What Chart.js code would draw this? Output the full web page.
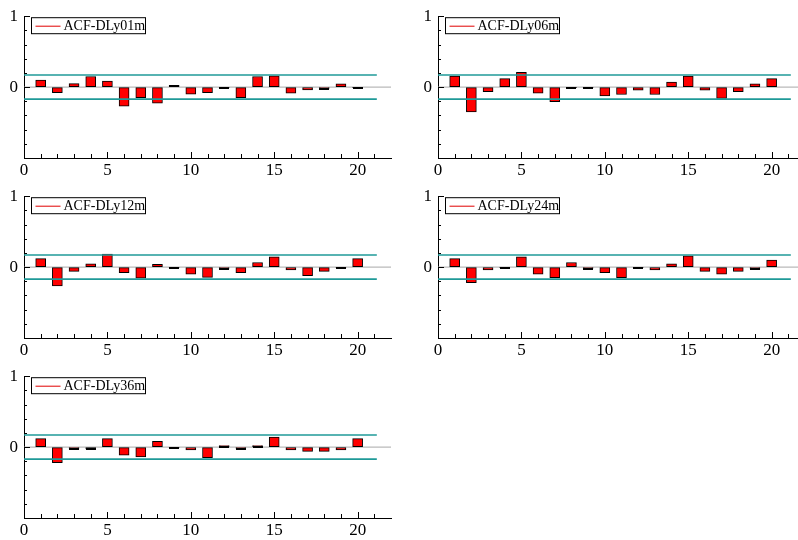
<!DOCTYPE html>
<html lang="en">

<head>
    <meta charset="UTF-8">
    <title>ACF panels</title>
    <style>
        body {
            margin: 0;
            width: 798px;
            height: 540px;
            overflow: hidden;
            background: #fff;
            position: relative;
        }

        .panel {
            position: absolute;
            width: 400px;
            height: 180px;
        }
    </style>
</head>

<body>
    <div class="panel" style="left:0;top:0"><canvas id="p1" width="400" height="180"></canvas></div>
    <div class="panel" style="left:414px;top:0"><canvas id="p2" width="400" height="180"></canvas></div>
    <div class="panel" style="left:0;top:180px"><canvas id="p3" width="400" height="180"></canvas></div>
    <div class="panel" style="left:414px;top:180px"><canvas id="p4" width="400" height="180"></canvas></div>
    <div class="panel" style="left:0;top:360px"><canvas id="p5" width="400" height="180"></canvas></div>

    <script src="https://cdn.jsdelivr.net/npm/chart.js"></script>
    <script>
        // lags and autocorrelations
        const lags = [1, 2, 3, 4, 5, 6, 7, 8, 9, 10, 11, 12, 13, 14, 15, 16, 17, 18, 19, 20];
        const acfDLy01m = [0.10, -0.08, 0.05, 0.15, 0.085, -0.27, -0.15, -0.225, 0.025, -0.10, -0.08, -0.005, -0.15, 0.15, 0.16, -0.085, -0.04, -0.02, 0.045, -0.005];
        const acfDLy06m = [0.155, -0.35, -0.065, 0.12, 0.21, -0.085, -0.205, -0.005, -0.005, -0.125, -0.105, -0.045, -0.105, 0.07, 0.155, -0.045, -0.16, -0.065, 0.045, 0.12];
        const acfDLy12m = [0.12, -0.265, -0.06, 0.045, 0.185, -0.08, -0.155, 0.04, -0.005, -0.10, -0.145, -0.02, -0.08, 0.065, 0.145, -0.04, -0.12, -0.06, -0.005, 0.12];
        const acfDLy24m = [0.12, -0.22, -0.04, -0.005, 0.145, -0.10, -0.15, 0.065, -0.02, -0.08, -0.15, -0.005, -0.04, 0.045, 0.16, -0.06, -0.10, -0.06, -0.02, 0.10];
        const acfDLy36m = [0.12, -0.22, -0.02, -0.025, 0.12, -0.115, -0.14, 0.08, -0.005, -0.04, -0.15, 0.02, -0.02, 0.02, 0.14, -0.04, -0.06, -0.06, -0.04, 0.12];

        const seriesNames = ['ACF-DLy01m', 'ACF-DLy06m', 'ACF-DLy12m', 'ACF-DLy24m', 'ACF-DLy36m'];
        const seriesValues = [acfDLy01m, acfDLy06m, acfDLy12m, acfDLy24m, acfDLy36m];
        const confLimit = 0.17;       // +/- band
        const bandEnd = 21.15;        // teal lines stop a bit after lag 21
        const xLabelTicks = [0, 5, 10, 15, 20];
        const yLabelTicks = [0, 1];

        Chart.defaults.font.family = "'Liberation Serif', serif";
        Chart.defaults.color = '#000';

        // bars too short to show their border get a black dash
        const flatBars = {
            id: 'flatBars',
            afterDatasetDraw(chart, args) {
                if (args.meta.type !== 'bar') return;
                const ctx = chart.ctx;
                ctx.save();
                ctx.fillStyle = '#000';
                args.meta.data.forEach(bar => {
                    const p = bar.getProps(['x', 'y', 'base', 'width']);
                    if (Math.abs(p.y - p.base) >= 2) return;
                    ctx.fillRect(Math.round(p.x - p.width / 2), Math.round(Math.min(p.y, p.base)), Math.round(p.width), 2);
                });
                ctx.restore();
            }
        };

        // small tick marks pointing into the plot
        const innerTicks = {
            id: 'innerTicks',
            afterDraw(chart) {
                const ctx = chart.ctx;
                const xs = chart.scales.x, ys = chart.scales.y;
                const area = chart.chartArea;
                ctx.save();
                ctx.strokeStyle = '#000';
                ctx.lineWidth = 1;
                ctx.beginPath();
                ys.ticks.forEach(t => {
                    if (t.value <= -1 + 1e-6) return;
                    const y = Math.round(ys.getPixelForValue(t.value)) + 0.5;
                    const len = yLabelTicks.some(v => Math.abs(v - t.value) < 1e-6) ? 6 : 3;
                    ctx.moveTo(area.left, y);
                    ctx.lineTo(area.left + len, y);
                });
                xs.ticks.forEach(t => {
                    if (t.value <= 0 || t.value > 21) return;
                    const x = Math.round(xs.getPixelForValue(t.value)) + 0.5;
                    const len = t.value % 5 === 0 ? 6 : 4;
                    ctx.moveTo(x, area.bottom);
                    ctx.lineTo(x, area.bottom - len);
                });
                ctx.stroke();
                ctx.restore();
            }
        };

        // boxed legend in the upper left corner of the plot
        const boxLegend = {
            id: 'boxLegend',
            afterDraw(chart) {
                const ctx = chart.ctx;
                const area = chart.chartArea;
                const label = chart.data.datasets[0].label;
                const bx = area.left + 7.5, by = area.top + 1.5;
                ctx.save();
                ctx.fillStyle = '#fff';
                ctx.fillRect(bx, by, 114, 16);
                ctx.strokeStyle = '#000';
                ctx.lineWidth = 1;
                ctx.strokeRect(bx, by, 114, 16);
                ctx.strokeStyle = '#e00000';
                ctx.beginPath();
                ctx.moveTo(bx + 4, by + 8.5);
                ctx.lineTo(bx + 29, by + 8.5);
                ctx.stroke();
                ctx.fillStyle = '#000';
                ctx.font = "14px 'Liberation Serif'";
                ctx.textBaseline = 'middle';
                ctx.fillText(label, bx + 32, by + 9);
                ctx.restore();
            }
        };

        function hLine(y, x1, color, width, order) {
            return {
                type: 'line',
                data: [{ x: 0, y: y }, { x: x1, y: y }],
                borderColor: color,
                borderWidth: width,
                pointRadius: 0,
                fill: false,
                order: order
            };
        }

        seriesNames.forEach((name, i) => {
            const ctx = document.getElementById('p' + (i + 1)).getContext('2d');
            new Chart(ctx, {
                type: 'bar',
                data: {
                    datasets: [
                        {
                            label: name,
                            data: lags.map((lag, k) => ({ x: lag, y: seriesValues[i][k] })),
                            backgroundColor: '#ff0000',
                            borderColor: '#000',
                            borderWidth: 1,
                            borderSkipped: false,
                            barThickness: 10,
                            order: 2
                        },
                        hLine(0, 22, '#a8a8a8', 1, 3),
                        hLine(confLimit, bandEnd, '#1f9a98', 1.6, 1),
                        hLine(-confLimit, bandEnd, '#1f9a98', 1.6, 1)
                    ]
                },
                options: {
                    responsive: false,
                    animation: false,
                    devicePixelRatio: 1,
                    layout: { padding: { top: 15, right: 9, left: 0, bottom: 0 } },
                    plugins: {
                        legend: { display: false },
                        tooltip: { enabled: false }
                    },
                    scales: {
                        x: {
                            type: 'linear',
                            min: 0,
                            max: 22,
                            offset: false,
                            grid: { drawOnChartArea: false, drawTicks: false },
                            border: { display: true, color: '#000', width: 1 },
                            ticks: {
                                stepSize: 1,
                                autoSkip: false,
                                maxRotation: 0,
                                padding: 2,
                                font: { size: 17 },
                                callback: v => xLabelTicks.includes(v) ? String(v) : ''
                            },
                            afterFit: s => { s.height = 22; }
                        },
                        y: {
                            min: -1,
                            max: 1,
                            grid: { drawOnChartArea: false, drawTicks: false },
                            border: { display: true, color: '#000', width: 1 },
                            ticks: {
                                stepSize: 0.2,
                                autoSkip: false,
                                padding: 6,
                                font: { size: 17 },
                                callback: v => {
                                    const hit = yLabelTicks.find(t => Math.abs(t - v) < 1e-6);
                                    return hit === undefined ? '' : String(hit);
                                }
                            },
                            afterFit: s => { s.width = 24; }
                        }
                    }
                },
                plugins: [flatBars, innerTicks, boxLegend]
            });
        });
    </script>
</body>

</html>
